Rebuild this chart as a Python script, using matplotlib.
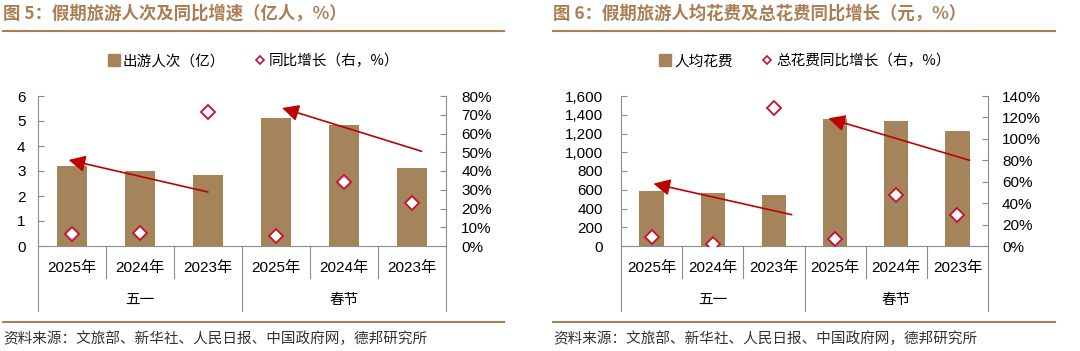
import matplotlib
matplotlib.use("Agg")
import matplotlib.pyplot as plt
from matplotlib.lines import Line2D
from matplotlib.ticker import FuncFormatter, MultipleLocator

plt.rcParams['font.family'] = ['Liberation Sans', 'Noto Sans CJK SC', 'DejaVu Sans']

# ---------------- data ----------------
years = ["2025年", "2024年", "2023年", "2025年", "2024年", "2023年"]
groups = ["五一", "春节"]

trips = [3.19, 3.02, 2.84, 5.13, 4.83, 3.14]          # 亿人次
trips_yoy = [6.2, 7.1, 71.3, 5.5, 34.3, 23.1]         # %

spend = [585, 565, 547, 1351, 1337, 1223]             # 元
spend_yoy = [8.1, 1.5, 128.8, 6.5, 47.6, 28.9]        # %

# arrow annotations (start x, start y) -> (tip x, tip y) in data coords
arrows_left = [((2.0, 2.16), (-0.05, 3.44)), ((5.14, 3.79), (3.09, 5.52))]
arrows_right = [((2.29, 334), (0.03, 665)), ((5.2, 914), (2.89, 1362))]

BAR = "#A5835B"
BROWN = "#A97E55"
RED = "#C8102E"
DRED = "#C00000"
GRAY = "#8C8C8C"

W, H = 1080, 351
fig = plt.figure(figsize=(W / 100, H / 100), dpi=100)


def rect(x0, y0, x1, y1):
    return [x0 / W, 1 - y1 / H, (x1 - x0) / W, (y1 - y0) / H]


def fx(x):
    return x / W


def fy(y):
    return 1 - y / H


def panel(x0, x1, bars, yoy, ymax, ystep, rmax, rstep, bw, lfmt, arrows,
          title, leg_bar, leg_pt, leg_x, title_x0, title_x1, lpad, rpad):
    ax = fig.add_axes(rect(x0, 96, x1, 246))
    xs = list(range(len(bars)))
    ax.bar(xs, bars, width=bw, color=BAR, zorder=2)
    ax.set_xlim(-0.5, 5.5)
    ax.set_ylim(0, ymax)
    ax.yaxis.set_major_locator(MultipleLocator(ystep))
    ax.yaxis.set_major_formatter(FuncFormatter(lfmt))
    ax.set_xticks([])
    for s in ["top", "right"]:
        ax.spines[s].set_visible(False)
    for s in ["left", "bottom"]:
        ax.spines[s].set_color(GRAY)
        ax.spines[s].set_linewidth(0.8)
    ax.tick_params(axis='y', direction='in', length=4, width=0.8, color=GRAY,
                   labelsize=11, pad=lpad)

    ax2 = ax.twinx()
    ax2.set_ylim(0, rmax)
    ax2.yaxis.set_major_locator(MultipleLocator(rstep))
    ax2.yaxis.set_major_formatter(FuncFormatter(lambda v, p: f"{v:.0f}%"))
    for s in ["top", "left", "bottom"]:
        ax2.spines[s].set_visible(False)
    ax2.spines["right"].set_color(GRAY)
    ax2.spines["right"].set_linewidth(0.8)
    ax2.tick_params(axis='y', direction='in', length=4, width=0.8, color=GRAY,
                    labelsize=11, pad=rpad)
    ax2.plot(xs, yoy, linestyle='none', marker='D', markersize=7,
             markerfacecolor='white', markeredgecolor=RED, markeredgewidth=1.3,
             zorder=5)

    for (sx, sy), (tx, ty) in arrows:
        ax.annotate("", xy=(tx, ty), xytext=(sx, sy),
                    arrowprops=dict(arrowstyle='-|>,head_length=1.0,head_width=0.5',
                                    color=DRED, lw=1.2, shrinkA=0, shrinkB=0),
                    zorder=4)

    # category axis
    tr = ax.get_xaxis_transform()
    for xv in [0.5, 1.5, 3.5, 4.5]:
        ax.add_line(Line2D([xv, xv], [0, -0.213], transform=tr, color=GRAY,
                           lw=0.8, clip_on=False))
    for xv in [-0.5, 2.5, 5.5]:
        ax.add_line(Line2D([xv, xv], [0, -0.433], transform=tr, color=GRAY,
                           lw=0.8, clip_on=False))
    for xv, lab in zip(xs, years):
        ax.text(xv, -0.147, lab, transform=tr, ha='center', va='center',
                fontsize=11)
    for gi, g in enumerate(groups):
        ax.text(1 + 3 * gi, -0.36, g, transform=tr, ha='center', va='center',
                fontsize=10.5, family=['Noto Sans CJK SC'])

    # title, rules, source
    fig.text(fx(title_x0), fy(14), title, ha='left', va='center', fontsize=12.5,
             fontweight='bold', color=BROWN, family=['Noto Sans CJK SC'])
    fig.add_artist(Line2D([fx(title_x0), fx(title_x1)], [fy(30.7), fy(30.7)],
                          color=BROWN, lw=1.5))
    fig.add_artist(Line2D([fx(title_x0), fx(title_x1)], [fy(322), fy(322)],
                          color=BROWN, lw=1.5))
    fig.text(fx(title_x0), fy(339), "资料来源：文旅部、新华社、人民日报、中国政府网，德邦研究所",
             ha='left', va='center', fontsize=10.5, color='#333333',
             family=['Noto Sans CJK SC'])

    handles = [Line2D([], [], linestyle='none', marker='s', markersize=9,
                      color=BAR, label=leg_bar),
               Line2D([], [], linestyle='none', marker='D', markersize=4.5,
                      markerfacecolor='white', markeredgecolor=RED,
                      markeredgewidth=1.2, label=leg_pt)]
    fig.legend(handles=handles, loc='center', bbox_to_anchor=(fx(leg_x), fy(61)),
               ncol=2, frameon=False, handlelength=0.8,
               handletextpad=0.2, columnspacing=2.0,
               prop={'family': ['Noto Sans CJK SC'], 'size': 10.5})
    return ax, ax2


panel(38, 446, trips, trips_yoy, 6, 1, 80, 10, 0.45,
      lambda v, p: f"{v:.0f}", arrows_left,
      "图 5：假期旅游人次及同比增速（亿人，%）", "出游人次（亿）", "同比增长（右，%）",
      254, 3, 504, 9, 11)

panel(621, 988, spend, spend_yoy, 1600, 200, 140, 20, 0.4,
      lambda v, p: f"{v:,.0f}", arrows_right,
      "图 6：假期旅游人均花费及总花费同比增长（元，%）", "人均花费", "总花费同比增长（右，%）",
      805, 553, 1055, 13, 10)

fig.savefig("out.png", dpi=100)
